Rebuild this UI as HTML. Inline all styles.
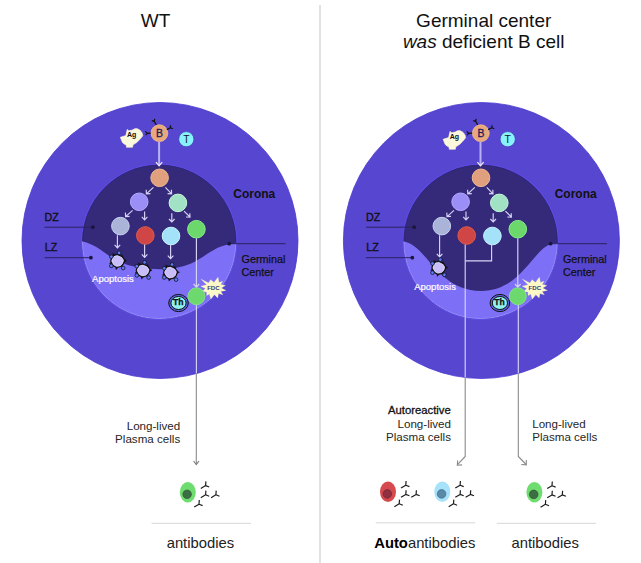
<!DOCTYPE html>
<html><head><meta charset="utf-8">
<style>
html,body{margin:0;padding:0;background:#fff;}
body{width:641px;height:563px;overflow:hidden;font-family:"Liberation Sans",sans-serif;}
svg{display:block;}
text{font-family:"Liberation Sans",sans-serif;}
</style></head>
<body>
<svg width="641" height="563" viewBox="0 0 641 563">
<defs>
  <clipPath id="lzL"><path d="M70,241.6 L82.5,241.6 C106.3,246.6 110.4,269.2 160,269.2 C203.7,269.2 204.3,245.4 236,243.6 L250,243.6 L250,330 L70,330 Z"/></clipPath>
  <clipPath id="lzR"><path d="M70,241.6 L82.5,241.6 C105.8,245.5 115.7,291 160,291 C203.1,291 213.5,240.8 236,243.2 L250,243.2 L250,330 L70,330 Z"/></clipPath>
  <g id="ab">
    <path d="M0,0 L-4.5,2.6 M0,0 L0.2,-4 M0,0 L3.6,1.6" stroke="#1a1a1a" stroke-width="1.3" fill="none" stroke-linecap="round"/>
  </g>
  <g id="apop"><g transform="scale(1.07)">
    <path d="M-3.5,-5.4 L0,-6.3 L4.5,-4.3 L6.7,-1 L5.4,2.6 L3.2,4.8 L-0.8,5.7 L-4,3.9 L-6.2,-0.1 L-5.3,-3.2 Z" fill="#c9befa" stroke="#111" stroke-width="1.3" stroke-linejoin="round"/>
    <path d="M-2.9,-4.6 L0,-5.3 L3.9,-3.6 L5.7,-0.9 L4.6,2.2 L2.7,4.1 L-0.7,4.8 L-3.4,3.3 L-5.2,-0.1 L-4.5,-2.7 Z" fill="none" stroke="#efeaff" stroke-width="0.5" stroke-linejoin="round"/>
    <path d="M-3.6,-5.8 L-4.6,-7.4 L-2.2,-6.4 Z M6.6,-1.6 L8.6,-0.6 L6.6,0.4 Z M-1.6,5.6 L-1.2,7.8 L0.4,5.8 Z M-6.2,0.8 L-7.4,2.2 L-5.6,2.2 Z M3.6,-4.6 L4.2,-6.2 L5,-4.2 Z" fill="#111" stroke="#111" stroke-width="0.4"/>
    <circle cx="1.6" cy="-7.9" r="1.7" fill="#5b7cf4" stroke="#111" stroke-width="0.7"/>
    <circle cx="-5.7" cy="-4.3" r="1.7" fill="#5b7cf4" stroke="#111" stroke-width="0.7"/>
    <circle cx="-5.7" cy="4.3" r="1.7" fill="#5b7cf4" stroke="#111" stroke-width="0.7"/>
    <circle cx="5.4" cy="6.3" r="1.7" fill="#5b7cf4" stroke="#111" stroke-width="0.7"/>
  </g></g>
  <g id="th">
    <ellipse cx="0" cy="0" rx="9.8" ry="8.6" fill="#5a64dc" stroke="#111" stroke-width="1"/>
    <ellipse cx="0" cy="0" rx="7.6" ry="6.5" fill="#8ff2ee" stroke="#111" stroke-width="1"/>
    <text x="-0.3" y="2.0" font-size="8.6" font-weight="bold" text-anchor="middle" fill="#111" stroke="#111" stroke-width="0.25">Th</text>
  </g>
  <g id="fdc">
    <path d="M4.5,-10.7 L5.5,-5.4 L9.1,-6.7 L7.2,-3.5 L11.9,-2.5 L7.8,0.1 L12.4,2.4 L7.2,3.4 L9.4,6.7 L5.0,5.6 L4.2,9.9 L0.8,6.4 L-2.6,10.9 L-4.2,6.0 L-6.8,7.6 L-6.8,3.9 L-11.2,3.6 L-8.0,0.5 L-12.6,-1.8 L-6.8,-3.2 L-12.4,-8.8 L-5.0,-5.0 L-2.8,-8.3 L0.5,-5.6 Z" fill="#fdf9c6" stroke="#fdf9c6" stroke-width="0.3" stroke-linejoin="round"/>
    <text x="-0.1" y="2.0" font-size="6.1" font-weight="bold" text-anchor="middle" fill="#3a3a72">FDC</text>
  </g>
  <g id="ag">
    <path d="M127.2,129.4 Q128.6,130.8 129.8,130.6 L132.5,129.9 Q134.6,128.3 137.4,128.7 Q140.6,129.8 142.2,133 L142.8,135.8 Q140,139.6 137,142.3 L133,144.8 L132.6,147.2 L126.5,147.3 L126.2,145 Q123.8,144 122.4,142.4 L120.3,137.3 L125.8,135.6 Z" fill="#fcf8dc" stroke="#fcf8dc" stroke-width="0.6" stroke-linejoin="round"/>
    <text x="131.6" y="137.3" font-size="7" font-weight="bold" text-anchor="middle" fill="#111">Ag</text>
  </g>
  <g id="labels">
    <text x="44.6" y="220.6" font-size="10.7" fill="#111" stroke="#111" stroke-width="0.35">DZ</text>
    <text x="44.8" y="251.2" font-size="10.7" fill="#111" stroke="#111" stroke-width="0.35">LZ</text>
    <line x1="44.6" y1="227.2" x2="92.8" y2="227.2" stroke="#2a2360" stroke-width="1"/>
    <circle cx="92.8" cy="227.2" r="1.9" fill="#1a1640"/>
    <line x1="44.6" y1="257.7" x2="90.9" y2="257.7" stroke="#2a2360" stroke-width="1"/>
    <circle cx="90.9" cy="257.7" r="1.9" fill="#1a1640"/>
    <line x1="229.2" y1="243.7" x2="285.6" y2="243.7" stroke="#2a2360" stroke-width="1"/>
    <circle cx="229.2" cy="243.7" r="1.9" fill="#1a1640"/>
    <text x="233.3" y="197.6" font-size="12" font-weight="bold" fill="#111">Corona</text>
    <text x="241.5" y="262.8" font-size="10.8" fill="#111" stroke="#111" stroke-width="0.25">Germinal</text>
    <text x="241.5" y="275.9" font-size="10.8" fill="#111" stroke="#111" stroke-width="0.25">Center</text>
  </g>
  <g id="ab1"><path d="M-4.8,2.9 L0,0 M0,0 L0.3,-4.2 M0,0 L3.6,1.4" stroke="#1e1e1e" stroke-width="1.2" fill="none"/></g>
  <g id="abs">
    <use href="#ab1" x="17.8" y="-6.6"/>
    <use href="#ab1" x="17.8" y="2.6"/>
    <use href="#ab1" x="28.1" y="2.6"/>
    <use href="#ab1" x="11.2" y="12"/>
  </g>
  <g id="pcGreen">
    <ellipse cx="0" cy="0" rx="8" ry="10.2" fill="#6fdc70"/>
    <circle cx="-0.7" cy="2.1" r="4.3" fill="#3c6e44" stroke="#2a4a30" stroke-width="0.6"/>
  </g>
  <g id="pcRed">
    <ellipse cx="0" cy="0" rx="8" ry="10.2" fill="#d44a4e"/>
    <circle cx="-0.7" cy="2.1" r="4.3" fill="#903040" stroke="#6a2430" stroke-width="0.6"/>
  </g>
  <g id="pcBlue">
    <ellipse cx="0" cy="0" rx="8" ry="10.2" fill="#a6e2fa"/>
    <circle cx="-0.7" cy="2.1" r="4.3" fill="#5a8aa8" stroke="#3a6078" stroke-width="0.6"/>
  </g>
  <g id="top">
    <!-- B cell -->
    <circle cx="159.4" cy="133.2" r="8.4" fill="#e8a87e" stroke="#f4bc8a" stroke-width="0.8"/>
    <text x="159.5" y="136.9" font-size="10.4" text-anchor="middle" fill="#1c1a5a" stroke="#1c1a5a" stroke-width="0.3">B</text>
    <circle cx="186.3" cy="139.2" r="7.6" fill="#88f2fa" stroke="#4434b8" stroke-width="0.7"/>
    <text x="186.4" y="143.1" font-size="10.4" text-anchor="middle" fill="#15152a">T</text>
    <!-- antibodies on B -->
    <path d="M150.8,133.2 L147.3,133.4 M147.3,133.4 L145.3,131.4 M147.3,133.4 L145.6,135.2" stroke="#111" stroke-width="1.2" fill="none"/>
    <path d="M156.4,124.8 L154.2,121.4 M154.2,121.4 L151.8,120.6 M154.2,121.4 L154.8,118.9" stroke="#111" stroke-width="1.2" fill="none"/>
    <path d="M166.8,129.6 L170.4,127.8 M170.4,127.8 L170.6,125.3 M170.4,127.8 L172.8,128.8" stroke="#111" stroke-width="1.2" fill="none"/>
    <!-- inner circle -->
    <circle cx="159.2" cy="241.8" r="77.5" fill="none" stroke="#5e4ce8" stroke-width="1.3"/>
    <circle cx="159.2" cy="241.8" r="76.7" fill="#352a79" stroke="#2c2270" stroke-width="0.8"/>
    <!-- arrow B -> orange -->
    <line x1="159.1" y1="142" x2="159.1" y2="165.4" stroke="#b9b1f4" stroke-width="2"/>
    <path d="M156,162.2 L159.1,165.8 L162.2,162.2" stroke="#f0ecff" stroke-width="1.3" fill="none"/>
  </g>
  <g id="cells" stroke-width="1">
    <circle cx="159.6" cy="177.8" r="8.8" fill="#e0a07e" stroke="#f2b890"/>
    <circle cx="139.2" cy="201.8" r="8.8" fill="#9b8ef6" stroke="#b4aaff"/>
    <circle cx="177.9" cy="202.9" r="8.8" fill="#a2e2c4" stroke="#c4f8dc"/>
    <circle cx="120.4" cy="226.1" r="8.8" fill="#aab4d8" stroke="#cad2f0"/>
    <circle cx="145.3" cy="235.5" r="8.8" fill="#d04646" stroke="#e05c48"/>
    <circle cx="171" cy="236" r="8.8" fill="#a4e2fa" stroke="#c8f4ff"/>
    <circle cx="196.4" cy="229.2" r="8.8" fill="#6cd86c" stroke="#88ee88"/>
  </g>
  <g id="arrows1" stroke="#d8d3f8" stroke-width="1.15" fill="none">
    <!-- orange -> purple -->
    <path d="M153.4,187.4 L146.4,193.8 M146.2,189.8 L146.4,193.8 L150.4,193.6"/>
    <!-- orange -> mint -->
    <path d="M165.4,187.4 L171.6,193.8 M167.6,193.6 L171.6,193.8 L171.4,189.8"/>
    <!-- purple -> gray -->
    <path d="M132.6,210.4 L125.6,216.6 M125.4,212.6 L125.6,216.6 L129.6,216.4"/>
    <!-- purple -> red -->
    <path d="M144.6,211.4 L144.6,219.6 M141.8,216.8 L144.6,219.8 L147.4,216.8"/>
    <!-- mint -> lightblue -->
    <path d="M171.8,213.2 L171.8,221.8 M169,219 L171.8,222 L174.6,219"/>
    <!-- mint -> green -->
    <path d="M184,211.2 L190,217 M186,217 L190,217.2 L189.8,213.2"/>
  </g>
</defs>

<!-- divider -->
<rect x="319" y="5" width="2" height="558" fill="#e2e2e2"/>

<!-- titles -->
<text x="155.5" y="26.5" font-size="19" text-anchor="middle" fill="#111">WT</text>
<text x="483.7" y="26.6" font-size="19" text-anchor="middle" fill="#111">Germinal center</text>
<text x="483.7" y="48.3" font-size="19" text-anchor="middle" fill="#111"><tspan font-style="italic">was</tspan> deficient B cell</text>

<!-- ============ LEFT PANEL ============ -->
<g id="left">
  <circle cx="160" cy="240.5" r="138" fill="#5746d0" stroke="#4a38d0" stroke-width="0.8"/>
  <use href="#top"/>
  <use href="#ag"/>
  <circle cx="159.2" cy="241.8" r="76.7" fill="#7e70f6" stroke="#978cfc" stroke-width="1" clip-path="url(#lzL)"/>
  <use href="#cells"/>
  <use href="#arrows1"/>
  <!-- arrows down to apoptosis -->
  <g stroke="#d8d3f8" stroke-width="1.15" fill="none">
    <path d="M117.4,235.2 L117.4,247.6 M114.6,244.8 L117.4,247.8 L120.2,244.8"/>
    <path d="M144.6,244.6 L144.6,257.2 M141.8,254.4 L144.6,257.4 L147.4,254.4"/>
    <path d="M170.6,245 L170.6,258.4 M167.8,255.6 L170.6,258.6 L173.4,255.6"/>
    <path d="M196.4,238.2 L196.4,287 M193.6,284 L196.4,287.2 L199.2,284"/>
    <line x1="196.4" y1="304.5" x2="196.4" y2="373.6"/>
  </g>
  <use href="#apop" x="117.4" y="261.3"/>
  <use href="#apop" x="142.9" y="270.8"/>
  <use href="#apop" x="170.3" y="272.9"/>
  <text x="92.1" y="282.4" font-size="9.5" fill="#fff" stroke="#fff" stroke-width="0.2">Apoptosis</text>
  <use href="#th" x="178.5" y="303"/>
  <use href="#fdc" x="213.5" y="288"/>
  <circle cx="196.4" cy="296.3" r="8.5" fill="#6dd86d" stroke="#84ec84" stroke-width="0.8"/>
  <use href="#labels"/>
  <!-- bottom -->
  <line x1="196.3" y1="373.6" x2="196.3" y2="464" stroke="#8a8a8a" stroke-width="1.1"/>
  <path d="M193.6,461 L196.3,464.6 L199,461" stroke="#7a7a7a" stroke-width="1.1" fill="none"/>
  <text x="180.2" y="429.8" font-size="11.6" text-anchor="end" fill="#262626">Long-lived</text>
  <text x="180.2" y="443.2" font-size="11.6" text-anchor="end" fill="#262626">Plasma cells</text>
  <use href="#pcGreen" x="187.8" y="492.2"/>
  <use href="#abs" x="187.8" y="492.2"/>
  <line x1="151.5" y1="523.3" x2="251" y2="523.3" stroke="#d6d6d6" stroke-width="1"/>
  <text x="200.4" y="548.4" font-size="14.8" text-anchor="middle" fill="#222">antibodies</text>
</g>

<!-- ============ RIGHT PANEL ============ -->
<g id="right" transform="translate(321.4,0)">
  <circle cx="160" cy="240.5" r="138" fill="#5746d0" stroke="#4a38d0" stroke-width="0.8"/>
  <use href="#top"/>
  <use href="#ag" x="1.4" y="2"/>
  <circle cx="159.2" cy="241.8" r="76.7" fill="#7e70f6" stroke="#978cfc" stroke-width="1" clip-path="url(#lzR)"/>
  <use href="#cells"/>
  <use href="#arrows1"/>
  <g stroke="#d8d3f8" stroke-width="1.15" fill="none">
    <path d="M118.2,235.2 L118.2,256.6 M115.4,253.8 L118.2,256.8 L121,253.8"/>
    <path d="M170.2,245 L170.2,260.9 L143.8,260.9"/>
    <line x1="143.8" y1="244.5" x2="143.8" y2="377.5"/>
    <path d="M196.4,238.2 L196.4,287 M193.6,284 L196.4,287.2 L199.2,284"/>
    <line x1="196.9" y1="304.5" x2="196.9" y2="373.5"/>
  </g>
  <use href="#apop" x="117.2" y="268.1"/>
  <text x="92.8" y="290" font-size="9.5" fill="#fff" stroke="#fff" stroke-width="0.2">Apoptosis</text>
  <use href="#th" x="178.5" y="303"/>
  <use href="#fdc" x="213.5" y="288"/>
  <circle cx="196.4" cy="296.3" r="8.5" fill="#6dd86d" stroke="#84ec84" stroke-width="0.8"/>
  <use href="#labels"/>
</g>
<g id="rightBottom">
  <path d="M465.2,377.5 L465.2,456.5 L457.3,464.9" stroke="#8a8a8a" stroke-width="1.1" fill="none"/>
  <path d="M457.7,460.4 L457.3,465.2 L462.1,464.9" stroke="#8a8a8a" stroke-width="1.1" fill="none"/>
  <path d="M518.3,373.5 L518.3,456.5 L526.2,464.5" stroke="#8a8a8a" stroke-width="1.1" fill="none"/>
  <path d="M521.3,464.5 L526.3,464.8 L526.3,460" stroke="#8a8a8a" stroke-width="1.1" fill="none"/>
  <text x="450.8" y="414" font-size="11.3" text-anchor="end" fill="#111" stroke="#111" stroke-width="0.3">Autoreactive</text>
  <text x="451" y="427.6" font-size="11.6" text-anchor="end" fill="#262626">Long-lived</text>
  <text x="451" y="441.3" font-size="11.6" text-anchor="end" fill="#262626">Plasma cells</text>
  <text x="532.2" y="427.6" font-size="11.6" fill="#262626">Long-lived</text>
  <text x="532.2" y="441.3" font-size="11.6" fill="#262626">Plasma cells</text>
  <use href="#pcRed" x="388" y="491.8"/>
  <use href="#abs" x="388" y="491.8"/>
  <use href="#pcBlue" x="442.3" y="491.8"/>
  <use href="#abs" x="442.3" y="491.8"/>
  <use href="#pcGreen" x="534.4" y="492.3"/>
  <use href="#abs" x="534.2" y="492.3"/>
  <line x1="375.7" y1="522.8" x2="475.3" y2="522.8" stroke="#d6d6d6" stroke-width="1"/>
  <line x1="496.7" y1="523.3" x2="596.1" y2="523.3" stroke="#d6d6d6" stroke-width="1"/>
  <text x="424.8" y="548.3" font-size="14.8" text-anchor="middle" fill="#222"><tspan font-weight="bold" fill="#000">Auto</tspan>antibodies</text>
  <text x="545.2" y="548.4" font-size="14.8" text-anchor="middle" fill="#222">antibodies</text>
</g>
</svg>
</body></html>
